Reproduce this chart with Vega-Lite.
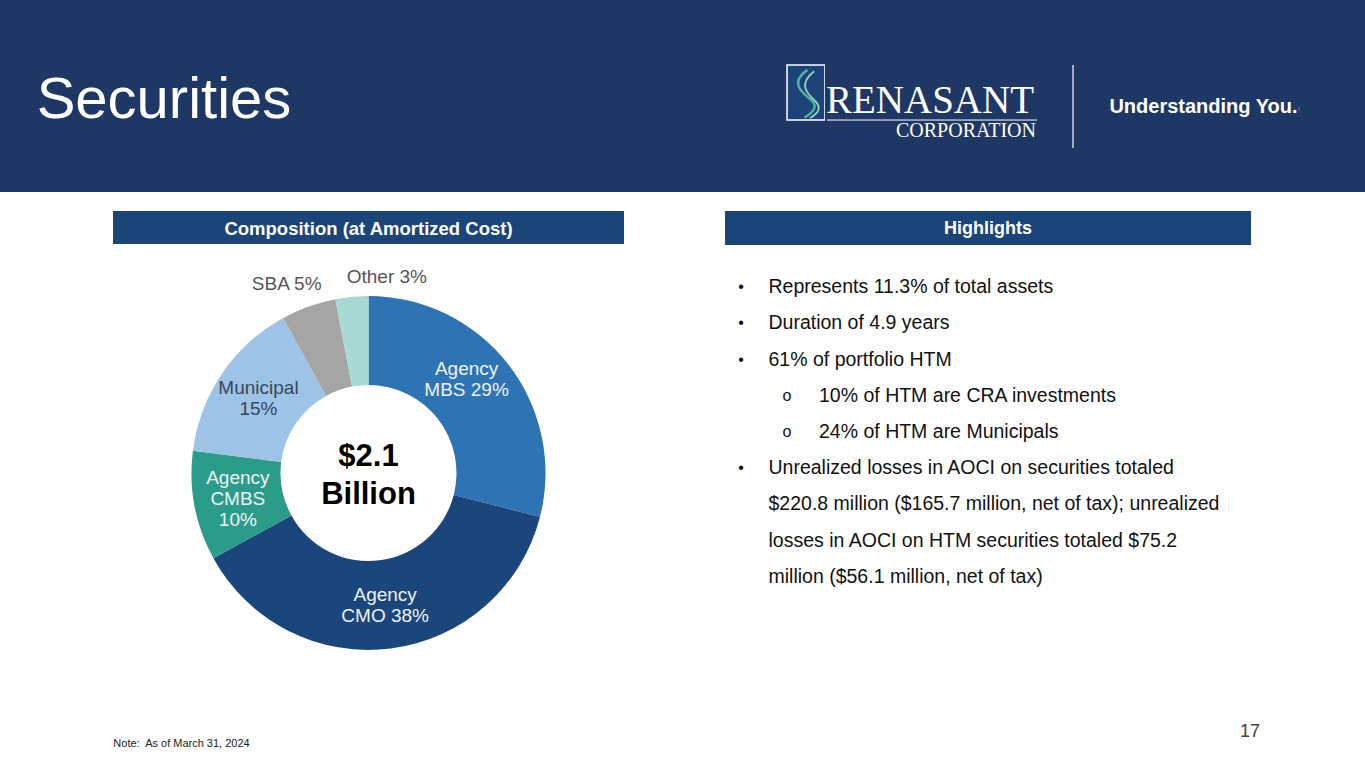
{
  "$schema": "https://vega.github.io/schema/vega-lite/v6.json",
  "background": "white",
  "padding": 0,
  "spacing": 18,
  "bounds": "full",
  "config": {"view": {"stroke": null}, "font": "Liberation Sans"},
  "datasets": {
    "composition": [
      {"category": "Agency MBS", "share": 29, "order": 1, "label": "Agency\nMBS 29%"},
      {"category": "Agency CMO", "share": 38, "order": 2, "label": "Agency\nCMO 38%"},
      {"category": "Agency CMBS", "share": 10, "order": 3, "label": "Agency\nCMBS\n10%"},
      {"category": "Municipal", "share": 15, "order": 4, "label": "Municipal\n15%"},
      {"category": "SBA", "share": 5, "order": 5, "label": "SBA 5%"},
      {"category": "Other", "share": 3, "order": 6, "label": "Other 3%"}
    ],
    "highlights": [
      {"line": 1, "level": 1, "glyph": "•", "text": "Represents 11.3% of total assets"},
      {"line": 2, "level": 1, "glyph": "•", "text": "Duration of 4.9 years"},
      {"line": 3, "level": 1, "glyph": "•", "text": "61% of portfolio HTM"},
      {"line": 4, "level": 2, "glyph": "o", "text": "10% of HTM are CRA investments"},
      {"line": 5, "level": 2, "glyph": "o", "text": "24% of HTM are Municipals"},
      {"line": 6, "level": 1, "glyph": "•", "text": "Unrealized losses in AOCI on securities totaled"},
      {"line": 7, "level": 1, "glyph": "", "text": "$220.8 million ($165.7 million, net of tax); unrealized"},
      {"line": 8, "level": 1, "glyph": "", "text": "losses in AOCI on HTM securities totaled $75.2"},
      {"line": 9, "level": 1, "glyph": "", "text": "million ($56.1 million, net of tax)"}
    ]
  },
  "vconcat": [
    {
      "hconcat": [
        {"width": 328, "height": 192, "view": {"fill": "#1e3765", "stroke": null},
         "data": {"values": [{"t": "Securities"}]},
         "mark": {"type": "text", "fontSize": 58, "color": "white", "baseline": "alphabetic", "dy": 22},
         "encoding": {"text": {"field": "t", "type": "nominal"}}},
        {"width": 459, "height": 192, "view": {"fill": "#1e3765", "stroke": null},
         "data": {"values": [{}]}, "mark": {"type": "text", "text": ""}},
        {"width": 38, "height": 192, "view": {"fill": "#1e3765", "stroke": null},
         "data": {"values": [{}]},
         "layer": [
           {"mark": {"type": "point", "shape": "M-0.69,-1.127H0.69V0.873H-0.69Z", "size": 3025, "filled": true, "fill": "#1d4479", "stroke": "white", "strokeWidth": 1.5, "opacity": 1}, "encoding": {}},
           {"mark": {"type": "point", "shape": "M0.05,-0.95C-0.65,-0.45 -0.1,-0.1 0.2,0.15C0.45,0.4 0.25,0.6 -0.05,0.78", "size": 3025, "filled": false, "stroke": "#4fb39f", "strokeWidth": 2.5, "opacity": 1}, "encoding": {}},
           {"mark": {"type": "point", "shape": "M0.3,-0.9C-0.35,-0.4 0.1,-0.05 0.35,0.2C0.6,0.45 0.4,0.65 0.15,0.8", "size": 3025, "filled": false, "stroke": "#9ad3bd", "strokeWidth": 1.8, "opacity": 1}, "encoding": {}}
         ]},
        {"width": 214, "height": 192, "view": {"fill": "#1e3765", "stroke": null},
         "data": {"values": [{"a": "RENASANT", "b": "CORPORATION"}]},
         "layer": [
           {"mark": {"type": "text", "font": "Liberation Serif", "fontSize": 39, "color": "white", "baseline": "alphabetic", "dy": 17, "dx": -2},
            "encoding": {"text": {"field": "a", "type": "nominal"}}},
           {"mark": {"type": "point", "shape": "M-1,0.229H1", "size": 44100, "filled": false, "stroke": "white", "strokeWidth": 1, "opacity": 1}, "encoding": {}},
           {"mark": {"type": "text", "font": "Liberation Serif", "fontSize": 20, "color": "white", "baseline": "alphabetic", "align": "right", "dy": 41, "dx": 104},
            "encoding": {"text": {"field": "b", "type": "nominal"}}}
         ]},
        {"width": 68, "height": 192, "view": {"fill": "#1e3765", "stroke": null},
         "data": {"values": [{}]},
         "mark": {"type": "point", "shape": "M0,-0.747V1.253", "size": 6889, "filled": false, "stroke": "#d0d5de", "strokeWidth": 1.5, "opacity": 1},
         "encoding": {}},
        {"width": 193, "height": 192, "view": {"fill": "#1e3765", "stroke": null},
         "data": {"values": [{"t": "Understanding You.", "r": "®"}]},
         "layer": [
           {"mark": {"type": "text", "fontSize": 20, "fontWeight": "bold", "color": "white", "baseline": "alphabetic", "dy": 17},
            "encoding": {"text": {"field": "t", "type": "nominal"}}},
           {"mark": {"type": "text", "fontSize": 8, "color": "#c9d0dc", "baseline": "alphabetic", "align": "left", "dx": 95, "dy": 16},
            "encoding": {"text": {"field": "r", "type": "nominal"}}}
         ]},
        {"width": 65, "height": 192, "view": {"fill": "#1e3765", "stroke": null},
         "data": {"values": [{}]}, "mark": {"type": "text", "text": ""}}
      ],
      "spacing": 0,
      "bounds": "flush"
    },
    {
      "hconcat": [
        {"width": 12, "height": 10, "data": {"values": [{}]}, "mark": {"type": "text", "text": ""}},
        {
          "vconcat": [
            {"width": 511, "height": 33, "view": {"fill": "#1b4479", "stroke": null},
             "data": {"values": [{"t": "Composition (at Amortized Cost)"}]},
             "mark": {"type": "text", "fontSize": 18.5, "fontWeight": "bold", "color": "white", "dy": 1},
             "encoding": {"text": {"field": "t", "type": "nominal"}}},
            {
              "width": 511,
              "height": 440,
              "layer": [
                {
                  "data": {"name": "composition"},
                  "encoding": {
                    "theta": {"field": "share", "type": "quantitative", "stack": true},
                    "order": {"field": "order", "type": "quantitative"}
                  },
                  "layer": [
                    {"mark": {"type": "arc", "innerRadius": 88, "outerRadius": 177},
                     "encoding": {"color": {"field": "category", "type": "nominal",
                       "scale": {"domain": ["Agency MBS", "Agency CMO", "Agency CMBS", "Municipal", "SBA", "Other"],
                                 "range": ["#2e74b5", "#1b467c", "#2b9c8a", "#9dc3e6", "#a5a5a5", "#a8dad3"]},
                       "legend": null}}},
                    {"mark": {"type": "text", "radius": 133, "fontSize": 19, "lineHeight": 21, "lineBreak": "\n", "color": "#eef3fa", "dy": -10},
                     "encoding": {"text": {"condition": {"test": "datum.category === 'Agency CMO'", "field": "label", "type": "nominal"}, "value": ""}}},
                    {"mark": {"type": "text", "radius": 133, "fontSize": 19, "lineHeight": 21, "lineBreak": "\n", "color": "#eef3fa", "dy": -20},
                     "encoding": {"text": {"condition": {"test": "datum.category === 'Agency CMBS'", "field": "label", "type": "nominal"}, "value": ""}}},
                    {"mark": {"type": "text", "radius": 133, "fontSize": 19, "lineHeight": 21, "lineBreak": "\n", "color": "#eef3fa", "dx": -7, "dy": -22},
                     "encoding": {"text": {"condition": {"test": "datum.category === 'Agency MBS'", "field": "label", "type": "nominal"}, "value": ""}}},
                    {"mark": {"type": "text", "radius": 133, "fontSize": 19, "lineHeight": 21, "lineBreak": "\n", "color": "#3a475a", "dy": -10},
                     "encoding": {"text": {"condition": {"test": "datum.category === 'Municipal'", "field": "label", "type": "nominal"}, "value": ""}}},
                    {"mark": {"type": "text", "radius": 206, "fontSize": 19, "color": "#555555", "dx": -12, "dy": 5},
                     "encoding": {"text": {"condition": {"test": "datum.category === 'SBA'", "field": "label", "type": "nominal"}, "value": ""}}},
                    {"mark": {"type": "text", "radius": 198, "fontSize": 19, "color": "#555555", "dx": 37, "dy": 1},
                     "encoding": {"text": {"condition": {"test": "datum.category === 'Other'", "field": "label", "type": "nominal"}, "value": ""}}}
                  ]
                },
                {
                  "data": {"values": [{"t": "$2.1\nBillion"}]},
                  "mark": {"type": "text", "fontSize": 31, "fontWeight": "bold", "lineBreak": "\n", "lineHeight": 38, "color": "black", "dy": -16},
                  "encoding": {"text": {"field": "t", "type": "nominal"}}
                }
              ]
            }
          ],
          "spacing": 9,
          "bounds": "flush"
        },
        {
          "vconcat": [
            {"width": 526, "height": 34, "view": {"fill": "#1b4479", "stroke": null},
             "data": {"values": [{"t": "Highlights"}]},
             "mark": {"type": "text", "fontSize": 18, "fontWeight": "bold", "color": "white", "dy": 1},
             "encoding": {"text": {"field": "t", "type": "nominal"}}},
            {
              "width": 526,
              "height": 326,
              "data": {"name": "highlights"},
              "resolve": {"scale": {"x": "independent"}},
              "layer": [
                {"mark": {"type": "text", "fontSize": 16, "align": "center", "color": "#111111"},
                 "encoding": {
                   "x": {"field": "level", "type": "ordinal", "scale": {"type": "point", "domain": [1, 2], "range": [16, 62], "padding": 0}, "axis": null},
                   "y": {"field": "line", "type": "ordinal", "scale": {"type": "point", "padding": 0.5}, "axis": null},
                   "text": {"field": "glyph", "type": "nominal"}}},
                {"mark": {"type": "text", "fontSize": 19.5, "align": "left", "color": "#111111"},
                 "encoding": {
                   "x": {"field": "level", "type": "ordinal", "scale": {"type": "point", "domain": [1, 2], "range": [43.5, 94], "padding": 0}, "axis": null},
                   "y": {"field": "line", "type": "ordinal", "scale": {"type": "point", "padding": 0.5}, "axis": null},
                   "text": {"field": "text", "type": "nominal"}}}
              ]
            }
          ],
          "spacing": 24,
          "bounds": "flush"
        }
      ],
      "spacing": 101,
      "bounds": "full"
    },
    {
      "hconcat": [
        {"width": 111, "height": 58, "data": {"values": [{}]}, "mark": {"type": "text", "text": ""}},
        {"width": 141, "height": 58, "data": {"values": [{"t": "Note:\u00a0 As of March 31, 2024"}]},
         "mark": {"type": "text", "fontSize": 11, "color": "#222222", "baseline": "alphabetic", "dy": 7},
         "encoding": {"text": {"field": "t", "type": "nominal"}}},
        {"width": 978, "height": 58, "data": {"values": [{}]}, "mark": {"type": "text", "text": ""}},
        {"width": 40, "height": 58, "data": {"values": [{"t": "17"}]},
         "mark": {"type": "text", "fontSize": 18, "color": "#404040", "baseline": "alphabetic", "dy": -3},
         "encoding": {"text": {"field": "t", "type": "nominal"}}},
        {"width": 95, "height": 58, "data": {"values": [{}]}, "mark": {"type": "text", "text": ""}}
      ],
      "spacing": 0,
      "bounds": "flush"
    }
  ]
}
